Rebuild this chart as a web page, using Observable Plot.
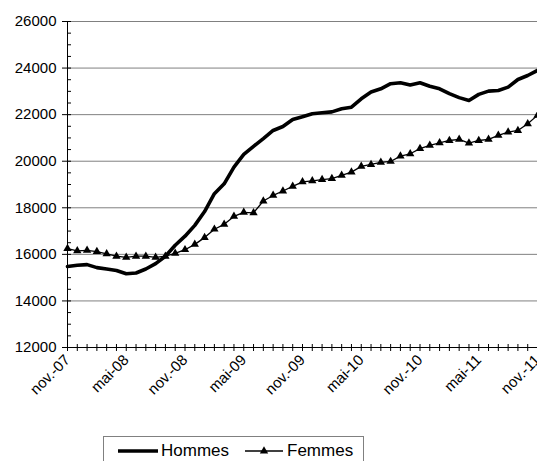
<!DOCTYPE html>
<html>
<head>
<meta charset="utf-8">
<script src="https://cdn.jsdelivr.net/npm/d3@7"></script>
<script src="https://cdn.jsdelivr.net/npm/@observablehq/plot@0.6"></script>
<style>
  html, body { margin: 0; padding: 0; background: #fff; }
  body { width: 537px; height: 461px; overflow: hidden; position: relative; font-family: "Liberation Sans", Arial, sans-serif; }
  #chart svg { display: block; }
  #legend { position: absolute; left: 103px; top: 436px; width: 261px; height: 34px; border: 1px solid #808080; box-sizing: border-box; display: flex; align-items: flex-start; padding-top: 4px; font-size: 17px; color: #000; }
  #legend .item { display: flex; align-items: center; }
  #legend svg { display: block; }
</style>
</head>
<body>
<div id="chart"></div>
<div id="legend"></div>
<script>
const months = ["nov.-07","déc.-07","janv.-08","févr.-08","mars-08","avr.-08","mai-08","juin-08","juil.-08","août-08","sept.-08","oct.-08",
  "nov.-08","déc.-08","janv.-09","févr.-09","mars-09","avr.-09","mai-09","juin-09","juil.-09","août-09","sept.-09","oct.-09",
  "nov.-09","déc.-09","janv.-10","févr.-10","mars-10","avr.-10","mai-10","juin-10","juil.-10","août-10","sept.-10","oct.-10",
  "nov.-10","déc.-10","janv.-11","févr.-11","mars-11","avr.-11","mai-11","juin-11","juil.-11","août-11","sept.-11","oct.-11",
  "nov.-11"];
const hommes = [15480,15530,15560,15430,15370,15310,15170,15200,15370,15600,15920,16390,
  16780,17245,17840,18605,19030,19750,20290,20640,20970,21320,21490,21790,
  21910,22040,22080,22120,22250,22320,22680,22970,23110,23330,23370,23270,
  23370,23220,23110,22900,22730,22610,22870,23010,23040,23180,23510,23680,
  23900];
const femmes = [16250,16150,16170,16120,16020,15920,15870,15920,15920,15870,15920,16040,
  16200,16430,16720,17080,17290,17630,17800,17780,18290,18530,18720,18920,
  19110,19160,19210,19250,19390,19530,19780,19860,19950,19990,20220,20320,
  20540,20680,20790,20890,20940,20780,20890,20940,21110,21250,21320,21610,
  21970];
const yMajor = [12000,14000,16000,18000,20000,22000,24000,26000];
const yMinor = d3.range(12000, 26001, 500);
const xLabels = months.filter((m, i) => i % 6 === 0);
const seriesNames = ["Hommes", "Femmes"];

const dataH = months.map((m, i) => ({month: m, value: hommes[i]}));
const dataF = months.map((m, i) => ({month: m, value: femmes[i]}));

const chart = Plot.plot({
  width: 537,
  height: 430,
  marginLeft: 67,
  marginRight: 0,
  marginTop: 21,
  marginBottom: 83,
  style: {fontFamily: "Liberation Sans, Arial, sans-serif", fontSize: "15px", color: "#000", background: "#fff", overflow: "visible"},
  x: {type: "point", domain: months, padding: 0, label: null},
  y: {domain: [12000, 26000], label: null},
  marks: [
    Plot.gridY(yMajor.slice(1), {stroke: "#808080", strokeOpacity: 1, strokeWidth: 1}),
    Plot.axisY(yMajor, {tickSize: 5, tickPadding: 6, tickFormat: d => String(d), stroke: "#000", fontSize: 15, label: null}),
    Plot.axisY(yMinor, {tickSize: 4, dx: 4, tickFormat: () => "", stroke: "#000", label: null}),
    Plot.axisX(months, {tickSize: 7, dy: -3, tickFormat: () => "", stroke: "#000", label: null}),
    Plot.axisX(xLabels, {tickSize: 0, tickRotate: -45, tickPadding: 10, fontSize: 15, textAnchor: "end", label: null}),
    Plot.ruleY([12000], {stroke: "#000", strokeWidth: 1}),
    Plot.ruleX([months[0]], {stroke: "#000", strokeWidth: 1}),
    Plot.line(dataF, {x: "month", y: "value", stroke: "#000", strokeWidth: 1.3}),
    Plot.dot(dataF, {x: "month", y: "value", symbol: "triangle", r: 3.1, fill: "#000", stroke: "none"}),
    Plot.line(dataH, {x: "month", y: "value", stroke: "#000", strokeWidth: 3.6, strokeLinejoin: "round"})
  ]
});
document.getElementById("chart").appendChild(chart);

// Legend
const legend = d3.select("#legend");
const it1 = legend.append("div").attr("class", "item").style("margin-left", "13px");
const s1 = it1.append("svg").attr("width", 42).attr("height", 20);
s1.append("line").attr("x1", 1).attr("x2", 41).attr("y1", 10).attr("y2", 10).attr("stroke", "#000").attr("stroke-width", 3.6);
it1.append("span").text(seriesNames[0]).style("margin-left", "2px");
const it2 = legend.append("div").attr("class", "item").style("margin-left", "15px");
const s2 = it2.append("svg").attr("width", 40).attr("height", 20);
s2.append("line").attr("x1", 1).attr("x2", 39).attr("y1", 10).attr("y2", 10).attr("stroke", "#000").attr("stroke-width", 1.3);
s2.append("path").attr("d", d3.symbol(d3.symbolTriangle, Math.PI * 3.1 * 3.1)()).attr("transform", "translate(20,10)").attr("fill", "#000");
it2.append("span").text(seriesNames[1]).style("margin-left", "3px");
</script>
</body>
</html>
